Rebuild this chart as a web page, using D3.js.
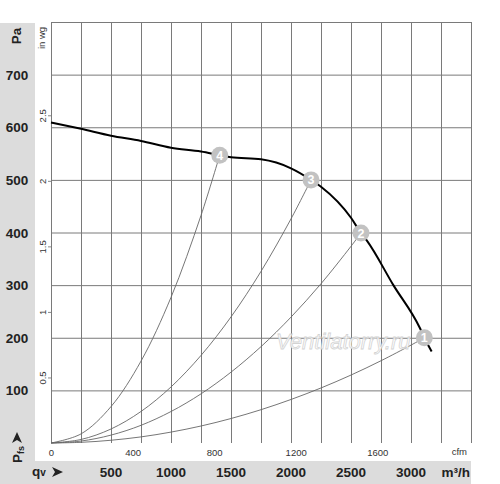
<!DOCTYPE html>
<html>
<head>
<meta charset="utf-8">
<script src="https://cdn.jsdelivr.net/npm/d3@7"></script>
<style>
  html, body { margin: 0; padding: 0; background: #fff; }
  svg { display: block; }
</style>
</head>
<body>
<script>
'use strict';

// ---- data ----
// fan curve, flow in m3/h, static pressure in Pa
const fanFlow  = [0, 250, 500, 750, 1000, 1250, 1406, 1500, 1750, 2000, 2167, 2250, 2500, 2583, 2631, 2853, 3075, 3111, 3172];
const fanPress = [609, 597, 584, 574, 561, 554, 547, 543, 539, 522, 500, 487, 428, 399, 385, 300, 218, 200, 174];

// operating points
const opLabels = ['1', '2', '3', '4'];
const opFlow   = [3111, 2583, 2167, 1406];
const opPress  = [200, 399, 500, 547];

// system (duct) curves through the operating points
const sys1Flow  = [0, 250, 500, 750, 1000, 1250, 1500, 1750, 2000, 2250, 2500, 2750, 3000, 3111];
const sys1Press = [0, 1.3, 5.2, 11.6, 20.7, 32.3, 46.5, 63.3, 82.7, 104.6, 129.1, 156.3, 186, 200];
const sys2Flow  = [0, 250, 500, 750, 1000, 1250, 1500, 1750, 2000, 2250, 2500, 2583];
const sys2Press = [0, 3.7, 15, 33.6, 59.8, 93.4, 134.6, 183.1, 239.2, 302.7, 373.8, 399];
const sys3Flow  = [0, 250, 500, 750, 1000, 1250, 1500, 1750, 2000, 2167];
const sys3Press = [0, 6.7, 26.6, 59.9, 106.5, 166.4, 239.6, 326.1, 425.9, 500];
const sys4Flow  = [0, 250, 500, 750, 1000, 1250, 1406];
const sys4Press = [0, 17.3, 69.2, 155.6, 276.7, 432.4, 547];

// ticks
const gridFlow   = [250, 500, 750, 1000, 1250, 1500, 1750, 2000, 2250, 2500, 2750, 3000, 3250, 3500];
const m3hTicks   = [500, 1000, 1500, 2000, 2500, 3000];
const cfmTicks   = [0, 400, 800, 1200, 1600];
const paTicks    = [100, 200, 300, 400, 500, 600, 700];
const paGrid     = [100, 200, 300, 400, 500, 600, 700, 800];
const inwgTicks  = [0.5, 1, 1.5, 2, 2.5];

const W = 500, H = 484;
const L = 51, R = 471, T = 22, B = 443;
const FONT = '"Liberation Sans", Arial, sans-serif';
const PANEL = '#dcdcdc';
const GRID = '#7a7a7a';

const svg = d3.select('body').append('svg')
  .attr('width', W).attr('height', H)
  .attr('viewBox', `0 0 ${W} ${H}`);
svg.append('rect').attr('width', W).attr('height', H).attr('fill', '#fff');

const x = d3.scaleLinear().domain([0, 3500]).range([L, R]);
const y = d3.scaleLinear().domain([0, 800]).range([B, T]);
const xCfm = d3.scaleLinear().domain([0, 3500 / 1.699]).range([L, R]);
const yWg = d3.scaleLinear().domain([0, 800 / 249.09]).range([B, T]);

// gray label panels
svg.append('rect').attr('x', 0).attr('y', 23).attr('width', 35).attr('height', H - 23).attr('fill', PANEL);
svg.append('rect').attr('x', 0).attr('y', 461).attr('width', R).attr('height', H - 461).attr('fill', PANEL);

// grid
const gx = svg.append('g')
  .attr('transform', `translate(0,${B})`)
  .call(d3.axisBottom(x).tickValues(gridFlow).tickSize(-(B - T)).tickFormat(''));
gx.select('.domain').remove();
gx.selectAll('line').attr('stroke', GRID).attr('stroke-width', 1);

const gy = svg.append('g')
  .attr('transform', `translate(${L},0)`)
  .call(d3.axisLeft(y).tickValues(paGrid).tickSize(-(R - L)).tickFormat(''));
gy.select('.domain').remove();
gy.selectAll('line').attr('stroke', GRID).attr('stroke-width', 1);

svg.append('line')
  .attr('x1', L + 0.5).attr('x2', L + 0.5).attr('y1', T).attr('y2', B)
  .attr('stroke', GRID);

// in wg axis (rotated labels)
const aw = svg.append('g')
  .attr('transform', `translate(${L},0)`)
  .call(d3.axisLeft(yWg).tickValues(inwgTicks).tickSize(3).tickFormat(d => String(d)));
aw.select('.domain').remove();
aw.selectAll('line').attr('stroke', '#888');
aw.selectAll('text')
  .attr('transform', 'rotate(-90)')
  .attr('x', 0).attr('y', -5).attr('dy', 0)
  .attr('text-anchor', 'middle')
  .attr('font-family', FONT).attr('font-size', 9.5).attr('fill', '#333');

// cfm axis labels
const ac = svg.append('g')
  .attr('transform', `translate(0,${B})`)
  .call(d3.axisBottom(xCfm).tickValues(cfmTicks).tickSize(0).tickPadding(6).tickFormat(d => String(d)));
ac.select('.domain').remove();
ac.selectAll('text')
  .attr('font-family', FONT).attr('font-size', 9.5).attr('fill', '#333');

svg.append('text').attr('x', 467).attr('y', 455).attr('text-anchor', 'end')
  .attr('font-family', FONT).attr('font-size', 9.5).attr('fill', '#333').text('cfm');

svg.append('text').attr('transform', 'translate(45,38) rotate(-90)').attr('text-anchor', 'middle')
  .attr('font-family', FONT).attr('font-size', 9.5).attr('fill', '#333').text('in wg');

// Pa labels in left panel
svg.append('g').selectAll('text').data(paTicks).join('text')
  .attr('x', 17).attr('y', d => y(d) + 5)
  .attr('text-anchor', 'middle')
  .attr('font-family', FONT).attr('font-size', 13.5).attr('font-weight', 700).attr('fill', '#222')
  .text(d => d);

svg.append('text').attr('transform', 'translate(21,36) rotate(-90)').attr('text-anchor', 'middle')
  .attr('font-family', FONT).attr('font-size', 13.5).attr('font-weight', 700).attr('fill', '#222')
  .text('Pa');

// m3/h labels in bottom band
svg.append('g').selectAll('text').data(m3hTicks).join('text')
  .attr('x', d => x(d)).attr('y', 477)
  .attr('text-anchor', 'middle')
  .attr('font-family', FONT).attr('font-size', 13.5).attr('font-weight', 700).attr('fill', '#222')
  .text(d => d);

svg.append('text').attr('x', 470).attr('y', 477).attr('text-anchor', 'end')
  .attr('font-family', FONT).attr('font-size', 13.5).attr('font-weight', 700).attr('fill', '#222')
  .text('m³/h');

// qv label with arrow
const qv = svg.append('text').attr('x', 32).attr('y', 476)
  .attr('font-family', FONT).attr('font-weight', 700).attr('fill', '#222');
qv.append('tspan').attr('font-size', 13.5).text('q');
qv.append('tspan').attr('font-size', 10).text('v');
svg.append('path').attr('d', 'M52,467 L63,472 L52,477 L55,472 Z').attr('fill', '#222');

// Pfs label with arrow
const pfs = svg.append('text').attr('transform', 'translate(22,463) rotate(-90)')
  .attr('font-family', FONT).attr('font-weight', 700).attr('fill', '#222');
pfs.append('tspan').attr('font-size', 13.5).text('P');
pfs.append('tspan').attr('font-size', 9).attr('dy', 2).text('fs');
svg.append('path').attr('d', 'M17,432 L22,443 L17,440 L12,443 Z').attr('fill', '#222');

// system curves
const sysLine = d3.line().x(d => x(d[0])).y(d => y(d[1])).curve(d3.curveCatmullRom);
const sysData = [
  d3.zip(sys1Flow, sys1Press),
  d3.zip(sys2Flow, sys2Press),
  d3.zip(sys3Flow, sys3Press),
  d3.zip(sys4Flow, sys4Press)
];
svg.append('g').selectAll('path').data(sysData).join('path')
  .attr('d', sysLine)
  .attr('fill', 'none').attr('stroke', '#666').attr('stroke-width', 0.9);

// fan curve
const fanLine = d3.line().x(d => x(d[0])).y(d => y(d[1])).curve(d3.curveMonotoneX);
svg.append('path').datum(d3.zip(fanFlow, fanPress))
  .attr('d', fanLine)
  .attr('fill', 'none').attr('stroke', '#000').attr('stroke-width', 2);

// watermark
svg.append('text').attr('x', 276).attr('y', 349)
  .attr('font-family', FONT).attr('font-style', 'italic').attr('font-size', 22)
  .attr('fill', '#fff').attr('stroke', '#cfcfcf').attr('stroke-width', 0.8)
  .attr('opacity', 0.9)
  .text('Ventilatorry.ru');

// operating points
const op = svg.append('g').selectAll('g').data(opLabels).join('g')
  .attr('transform', (d, i) => `translate(${x(opFlow[i])},${y(opPress[i])})`);
op.append('circle').attr('r', 8.5).attr('fill', '#c2c2c2');
op.append('text').attr('y', 4.5).attr('text-anchor', 'middle')
  .attr('font-family', FONT).attr('font-size', 12.5).attr('font-weight', 700).attr('fill', '#fff')
  .text(d => d);
</script>
</body>
</html>
